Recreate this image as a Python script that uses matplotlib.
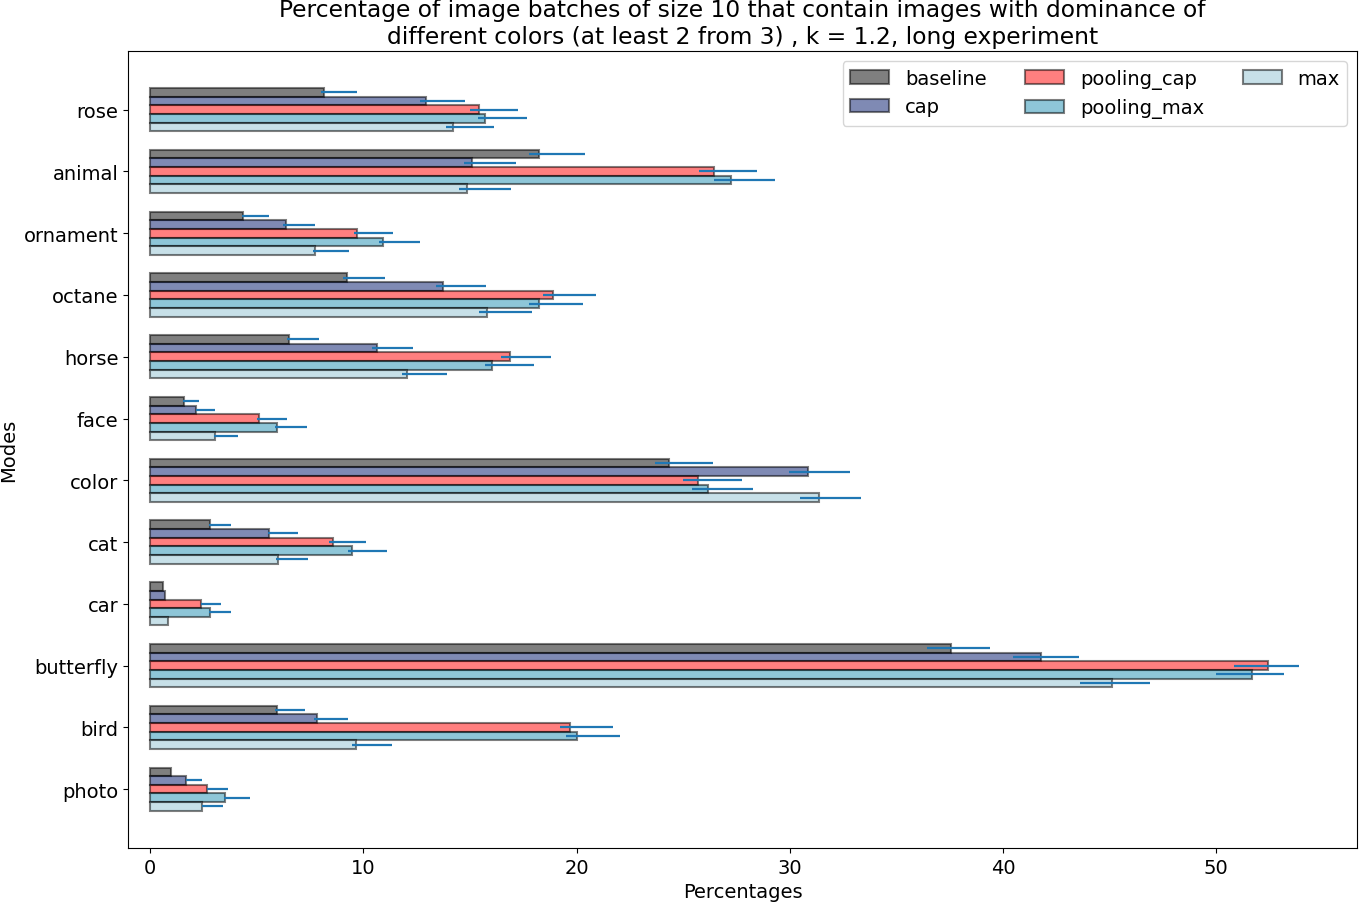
import numpy as np
import matplotlib
matplotlib.use("Agg")
import matplotlib.pyplot as plt

# categories listed top to bottom as they appear on the chart
modes = ["rose", "animal", "ornament", "octane", "horse", "face",
         "color", "cat", "car", "butterfly", "bird", "photo"]
series = ["baseline", "cap", "pooling_cap", "pooling_max", "max"]

baseline = [8.16, 18.24, 4.36, 9.24, 6.52, 1.60, 24.33, 2.81, 0.61, 37.55, 5.95, 0.98]
baseline_lo = [8.0, 17.75, 4.31, 9.05, 6.41, 1.53, 23.66, 2.75, 0.61, 36.41, 5.85, 0.98]
baseline_hi = [9.68, 20.41, 5.56, 11.0, 7.9, 2.28, 26.38, 3.78, 0.61, 39.41, 7.25, 0.98]

cap = [12.94, 15.10, 6.35, 13.74, 10.64, 2.16, 30.85, 5.58, 0.70, 41.79, 7.83, 1.69]
cap_lo = [12.64, 14.71, 6.22, 13.39, 10.39, 2.14, 29.94, 5.52, 0.70, 40.49, 7.67, 1.69]
cap_hi = [14.75, 17.15, 7.72, 15.74, 12.32, 3.03, 32.8, 6.92, 0.70, 43.54, 9.27, 2.41]

pooling_cap = [15.40, 26.44, 9.71, 18.89, 16.86, 5.11, 25.69, 8.58, 2.39, 52.42, 19.69, 2.67]
pooling_cap_lo = [14.98, 25.72, 9.55, 18.41, 16.44, 5.02, 24.97, 8.38, 2.38, 50.81, 19.21, 2.66]
pooling_cap_hi = [17.24, 28.48, 11.38, 20.89, 18.78, 6.41, 27.74, 10.11, 3.31, 53.9, 21.69, 3.63]

pooling_max = [15.71, 27.24, 10.92, 18.24, 16.03, 5.95, 26.16, 9.47, 2.81, 51.67, 20.02, 3.52]
pooling_max_lo = [15.36, 26.43, 10.72, 17.75, 15.69, 5.85, 25.4, 9.27, 2.75, 50.0, 19.49, 3.46]
pooling_max_hi = [17.66, 29.32, 12.65, 20.29, 17.99, 7.35, 28.26, 11.1, 3.78, 53.2, 22.02, 4.66]

max_ = [14.21, 14.86, 7.74, 15.80, 12.05, 3.05, 31.36, 6.0, 0.84, 45.1, 9.66, 2.44]
max_lo = [13.86, 14.47, 7.63, 15.41, 11.8, 2.99, 30.46, 5.89, 0.84, 43.63, 9.46, 2.44]
max_hi = [16.11, 16.91, 9.32, 17.9, 13.91, 4.11, 33.36, 7.39, 0.84, 46.87, 11.36, 3.41]

values = [baseline, cap, pooling_cap, pooling_max, max_]
lows = [baseline_lo, cap_lo, pooling_cap_lo, pooling_max_lo, max_lo]
highs = [baseline_hi, cap_hi, pooling_cap_hi, pooling_max_hi, max_hi]
colors = ["black", "#00176a", "red", "#1f8fb2", "#91c3d3"]

fig, ax = plt.subplots(figsize=(13.59, 9.03), dpi=100)
fig.subplots_adjust(left=0.0944, right=0.9985, bottom=0.06, top=0.9424)

y = np.arange(len(modes))[::-1]
h = 0.14
for i, (name, vals, lo, hi, c) in enumerate(zip(series, values, lows, highs, colors)):
    vals = np.array(vals)
    pos = y + (2 - i) * h
    ax.barh(pos, vals, height=h, color=c, edgecolor="black", linewidth=1.5,
            alpha=0.5, label=name)
    xerr = [vals - np.array(lo), np.array(hi) - vals]
    ax.errorbar(vals, pos, xerr=xerr, fmt="none", ecolor="#1f77b4", elinewidth=1.6)

ax.set_yticks(y)
ax.set_yticklabels(modes)
ax.set_ylim(-0.95, 11.95)
ax.set_xlim(-1.03, 56.6)
ax.tick_params(labelsize=14)
ax.set_xlabel("Percentages", fontsize=14)
ax.set_ylabel("Modes", fontsize=14)
ax.set_title("Percentage of image batches of size 10 that contain images with dominance of\n"
             "different colors (at least 2 from 3) , k = 1.2, long experiment", fontsize=16.8)
ax.legend(ncol=3, loc="upper right", fontsize=14)

fig.savefig("out.png")
